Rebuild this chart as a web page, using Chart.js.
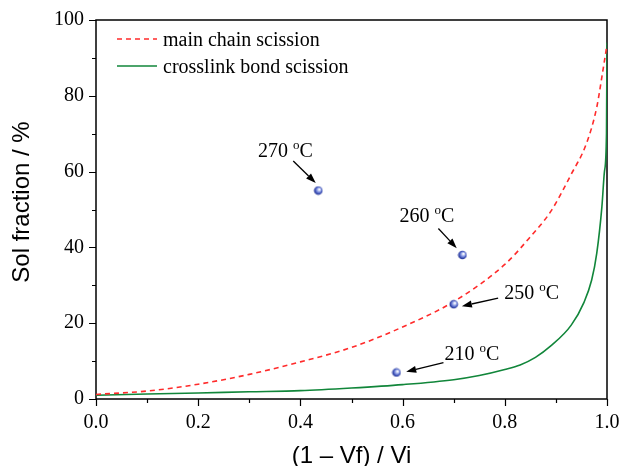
<!DOCTYPE html>
<html lang="en">
<head>
<meta charset="UTF-8">
<title>Sol fraction</title>
<style>
  html, body { margin: 0; padding: 0; background: #fff; }
</style>
</head>
<body>
<canvas id="solChart" width="622" height="466"></canvas>
<script src="https://cdn.jsdelivr.net/npm/chart.js"></script>
<script>
// model curve: main chain scission
var mainX = [0, 0.1, 0.2, 0.3, 0.4, 0.5, 0.6, 0.7, 0.8, 0.85, 0.89, 0.93, 0.96, 0.98, 0.99, 1.0];
var mainY = [1.2, 2.1, 3.9, 6.5, 9.8, 13.6, 19.0, 25.7, 35.5, 42.8, 49.5, 59.3, 67.5, 77.0, 85.0, 93.5];
// model curve: crosslink bond scission
var crossX = [0, 0.1, 0.2, 0.3, 0.4, 0.5, 0.6, 0.7, 0.75, 0.8, 0.83, 0.86, 0.89, 0.93, 0.955, 0.97, 0.98, 0.99, 0.995, 0.999, 1.0];
var crossY = [1.0, 1.3, 1.6, 1.9, 2.2, 2.9, 3.8, 5.1, 6.2, 7.8, 9.0, 11.0, 14.0, 19.5, 25.5, 31.4, 38.5, 50.7, 60.0, 70.0, 94.0];
// measured points
var tempLabels = ['270', '260', '250', '210'];
var tempX = [0.435, 0.717, 0.700, 0.588];
var tempY = [55, 38, 25, 7];

var seriesNames = ['main chain scission', 'crosslink bond scission'];
var xTickLabels = ['0.0', '0.2', '0.4', '0.6', '0.8', '1.0'];
var yTickLabels = ['0', '20', '40', '60', '80', '100'];

// where each temperature label and its arrow sit (data units)
var notes = [
    { text: tempLabels[0], tx: 0.317, ty: 63.9, from: [0.386, 62.8], to: [0.430, 57.0] },
    { text: tempLabels[1], tx: 0.594, ty: 46.8, from: [0.670, 45.0], to: [0.706, 39.8] },
    { text: tempLabels[2], tx: 0.799, ty: 26.4, from: [0.787, 26.6], to: [0.716, 24.5] },
    { text: tempLabels[3], tx: 0.682, ty: 10.3, from: [0.680, 9.6], to: [0.607, 7.2] }
];

function toXY(xs, ys) {
    return xs.map(function (v, i) { return { x: v, y: ys[i] }; });
}

// little shaded ball for the measured points
function makeBall() {
    var c = document.createElement('canvas');
    c.width = 10; c.height = 10;
    var g = c.getContext('2d');
    var grad = g.createRadialGradient(6.2, 3.8, 0.5, 5, 5, 5);
    grad.addColorStop(0, '#ffffff');
    grad.addColorStop(0.35, '#8fa0e6');
    grad.addColorStop(0.7, '#3347b0');
    grad.addColorStop(1, '#1c2678');
    g.fillStyle = grad;
    g.beginPath();
    g.arc(5, 5, 4.3, 0, Math.PI * 2);
    g.fill();
    return c;
}

var serif = 'Liberation Serif, Times New Roman, serif';
var sans = 'Liberation Sans, Arial, sans-serif';

function isLabelled(scale, v) {
    var s = scale.axis === 'x' ? v.toFixed(1) : String(Math.round(v));
    return (scale.axis === 'x' ? xTickLabels : yTickLabels).indexOf(s) >= 0;
}

var framePlugin = {
    id: 'framePlugin',
    beforeDatasetsDraw: function (chart) {
        var ctx = chart.ctx, a = chart.chartArea;
        var xs = chart.scales.x, ys = chart.scales.y;
        ctx.save();
        ctx.strokeStyle = '#000';
        ctx.lineWidth = 1.5;
        ctx.strokeRect(a.left, a.top, a.right - a.left, a.bottom - a.top);
        ctx.lineWidth = 1.2;
        ctx.beginPath();
        xs.ticks.forEach(function (t) {
            var px = Math.round(xs.getPixelForValue(t.value)) + 0.5;
            var len = isLabelled(xs, t.value) ? 7 : 4;
            ctx.moveTo(px, a.bottom);
            ctx.lineTo(px, a.bottom + len);
        });
        ys.ticks.forEach(function (t) {
            var py = Math.round(ys.getPixelForValue(t.value)) + 0.5;
            var len = isLabelled(ys, t.value) ? 7 : 4;
            ctx.moveTo(a.left, py);
            ctx.lineTo(a.left - len, py);
        });
        ctx.stroke();

        // y axis title
        ctx.translate(a.left - 74, a.top + 182);
        ctx.rotate(-Math.PI / 2);
        ctx.fillStyle = '#000';
        ctx.font = '24px ' + sans;
        ctx.textAlign = 'center';
        ctx.textBaseline = 'middle';
        ctx.fillText('Sol fraction / %', 0, 0);
        ctx.restore();
    },
    afterDraw: function (chart) {
        var ctx = chart.ctx, a = chart.chartArea;
        var xs = chart.scales.x, ys = chart.scales.y;
        ctx.save();

        // legend
        var ds = chart.data.datasets;
        [ds[1], ds[2]].forEach(function (d, i) {
            var y = a.top + 19 + i * 27;
            ctx.strokeStyle = d.borderColor;
            ctx.lineWidth = 1.5;
            ctx.setLineDash(d.borderDash || []);
            ctx.beginPath();
            ctx.moveTo(a.left + 21, y);
            ctx.lineTo(a.left + 61, y);
            ctx.stroke();
            ctx.setLineDash([]);
            ctx.fillStyle = '#000';
            ctx.font = '20px ' + serif;
            ctx.textBaseline = 'alphabetic';
            ctx.fillText(d.label, a.left + 67, y + 7);
        });

        // temperature labels with arrows
        notes.forEach(function (n) {
            var x0 = xs.getPixelForValue(n.tx), y0 = ys.getPixelForValue(n.ty);
            ctx.fillStyle = '#000';
            ctx.font = '20px ' + serif;
            ctx.textBaseline = 'alphabetic';
            var part = n.text + ' ';
            ctx.fillText(part, x0, y0);
            var w = ctx.measureText(part).width;
            ctx.font = '13px ' + serif;
            ctx.fillText('o', x0 + w, y0 - 8);
            var wo = ctx.measureText('o').width;
            ctx.font = '20px ' + serif;
            ctx.fillText('C', x0 + w + wo, y0);

            var fx = xs.getPixelForValue(n.from[0]), fy = ys.getPixelForValue(n.from[1]);
            var hx = xs.getPixelForValue(n.to[0]), hy = ys.getPixelForValue(n.to[1]);
            var ang = Math.atan2(hy - fy, hx - fx);
            var hl = 10, hw = 3.5;
            var bx = hx - hl * Math.cos(ang), by = hy - hl * Math.sin(ang);
            ctx.strokeStyle = '#000';
            ctx.lineWidth = 1.3;
            ctx.beginPath();
            ctx.moveTo(fx, fy);
            ctx.lineTo(bx, by);
            ctx.stroke();
            ctx.beginPath();
            ctx.moveTo(hx, hy);
            ctx.lineTo(bx + hw * Math.sin(ang), by - hw * Math.cos(ang));
            ctx.lineTo(bx - hw * Math.sin(ang), by + hw * Math.cos(ang));
            ctx.closePath();
            ctx.fill();
        });
        ctx.restore();
    }
};

var ball = makeBall();

new Chart(document.getElementById('solChart'), {
    type: 'scatter',
    data: {
        datasets: [{
            label: 'measured',
            data: toXY(tempX, tempY),
            pointStyle: ball,
            showLine: false
        }, {
            label: seriesNames[0],
            data: toXY(mainX, mainY),
            showLine: true,
            borderColor: '#ff2b2b',
            borderWidth: 1.6,
            borderDash: [5, 4],
            pointRadius: 0,
            cubicInterpolationMode: 'monotone'
        }, {
            label: seriesNames[1],
            data: toXY(crossX, crossY),
            showLine: true,
            borderColor: '#11863a',
            borderWidth: 1.6,
            pointRadius: 0,
            cubicInterpolationMode: 'monotone'
        }]
    },
    options: {
        responsive: false,
        animation: false,
        layout: { padding: { top: 20, right: 15, left: 0, bottom: 0 } },
        plugins: { legend: { display: false }, tooltip: { enabled: false } },
        scales: {
            x: {
                type: 'linear',
                min: 0,
                max: 1,
                afterFit: function (s) {
                    s.height = 67;
                    s.paddingLeft = 0;
                    s.paddingRight = 0;
                },
                grid: { display: false, drawTicks: false },
                border: { display: false },
                ticks: {
                    stepSize: 0.1,
                    autoSkip: false,
                    maxRotation: 0,
                    padding: 12,
                    color: '#000',
                    font: { family: serif, size: 20 },
                    callback: function (v) {
                        var s = v.toFixed(1);
                        return xTickLabels.indexOf(s) >= 0 ? s : '';
                    }
                },
                title: {
                    display: true,
                    text: '(1 \u2013 Vf) / Vi',
                    color: '#000',
                    font: { family: sans, size: 24 },
                    padding: { top: 0, bottom: -5 }
                }
            },
            y: {
                min: 0,
                max: 100,
                afterFit: function (s) {
                    s.width = 96;
                    s.paddingTop = 0;
                    s.paddingBottom = 0;
                },
                grid: { display: false, drawTicks: false },
                border: { display: false },
                ticks: {
                    stepSize: 10,
                    autoSkip: false,
                    padding: 12,
                    color: '#000',
                    font: { family: serif, size: 20 },
                    callback: function (v) {
                        var s = String(Math.round(v));
                        return yTickLabels.indexOf(s) >= 0 ? s : '';
                    }
                }
            }
        }
    },
    plugins: [framePlugin]
});
</script>
</body>
</html>
